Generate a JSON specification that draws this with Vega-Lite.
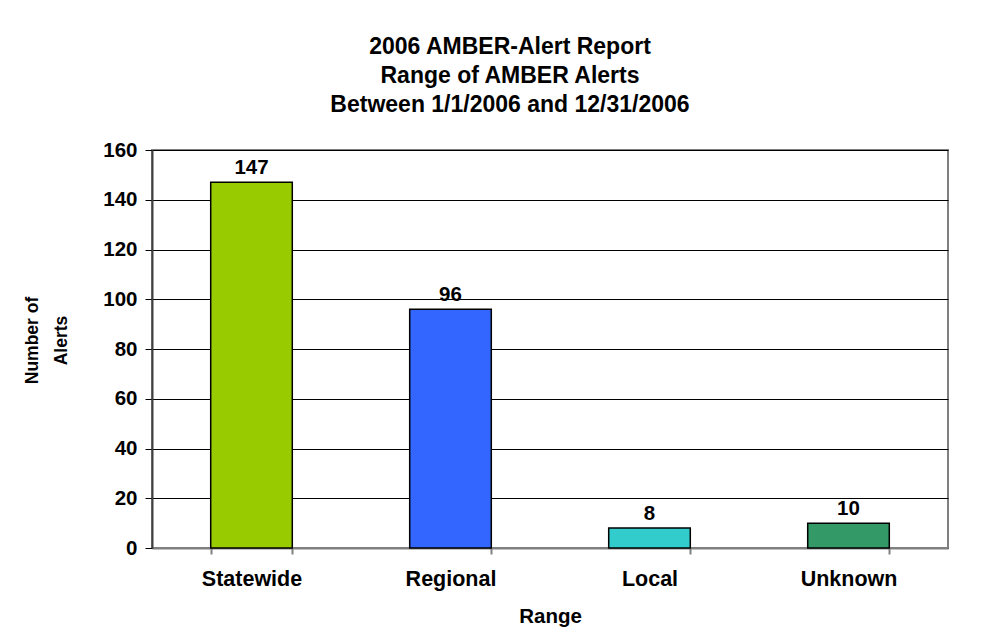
{
  "$schema": "https://vega.github.io/schema/vega-lite/v6.json",
  "width": 796,
  "height": 398,
  "autosize": {"type": "none"},
  "padding": {"left": 152, "top": 150, "right": 48, "bottom": 83},
  "background": "white",
  "title": {
    "text": ["2006 AMBER-Alert Report", "Range of AMBER Alerts", "Between 1/1/2006 and 12/31/2006"],
    "font": "Liberation Sans",
    "fontSize": 23,
    "fontWeight": "bold",
    "lineHeight": 29,
    "anchor": "middle",
    "dx": -40,
    "offset": 23,
    "color": "black"
  },
  "data": {
    "values": [
      {"Range": "Statewide", "Alerts": 147},
      {"Range": "Regional", "Alerts": 96},
      {"Range": "Local", "Alerts": 8},
      {"Range": "Unknown", "Alerts": 10}
    ]
  },
  "encoding": {
    "x": {
      "field": "Range",
      "type": "nominal",
      "sort": null,
      "scale": {"paddingInner": 0.59, "paddingOuter": 0.295},
      "axis": {
        "title": "Range",
        "labelAngle": 0,
        "labelFontSize": 21.5,
        "tickBand": "extent",
        "tickSize": 6,
        "tickColor": "#808080",
        "tickWidth": 2,
        "domainColor": "#808080",
        "domainWidth": 2,
        "labelPadding": 14,
        "titleFontSize": 20.5,
        "titlePadding": 17,
        "grid": false
      }
    },
    "y": {
      "field": "Alerts",
      "type": "quantitative",
      "scale": {"domain": [0, 160]},
      "axis": {
        "title": ["Number of", "Alerts"],
        "values": [0, 20, 40, 60, 80, 100, 120, 140, 160],
        "labelFontSize": 20.5,
        "tickSize": 7,
        "tickColor": "black",
        "domainColor": "#404040",
        "domainWidth": 2,
        "labelPadding": 8,
        "grid": true,
        "gridColor": "black",
        "gridWidth": 1,
        "titleFontSize": 17.5,
        "titleAngle": -90,
        "titleX": -120,
        "titleY": 190,
        "titleAlign": "center",
        "titleBaseline": "middle",
        "titleLineHeight": 29
      }
    }
  },
  "layer": [
    {
      "mark": {"type": "bar", "stroke": "black", "strokeWidth": 1.5},
      "encoding": {
        "color": {
          "field": "Range",
          "type": "nominal",
          "scale": {
            "domain": ["Statewide", "Regional", "Local", "Unknown"],
            "range": ["#99CC00", "#3366FF", "#33CCCC", "#339966"]
          },
          "legend": null
        }
      }
    },
    {
      "mark": {
        "type": "text",
        "baseline": "bottom",
        "dy": -4,
        "font": "Liberation Sans",
        "fontSize": 20.5,
        "fontWeight": "bold",
        "color": "black"
      },
      "encoding": {"text": {"field": "Alerts", "type": "quantitative"}}
    }
  ],
  "config": {
    "view": {"stroke": "#808080", "strokeWidth": 2},
    "axis": {
      "labelFont": "Liberation Sans",
      "labelFontWeight": "bold",
      "labelColor": "black",
      "titleFont": "Liberation Sans",
      "titleFontWeight": "bold",
      "titleColor": "black"
    }
  }
}
